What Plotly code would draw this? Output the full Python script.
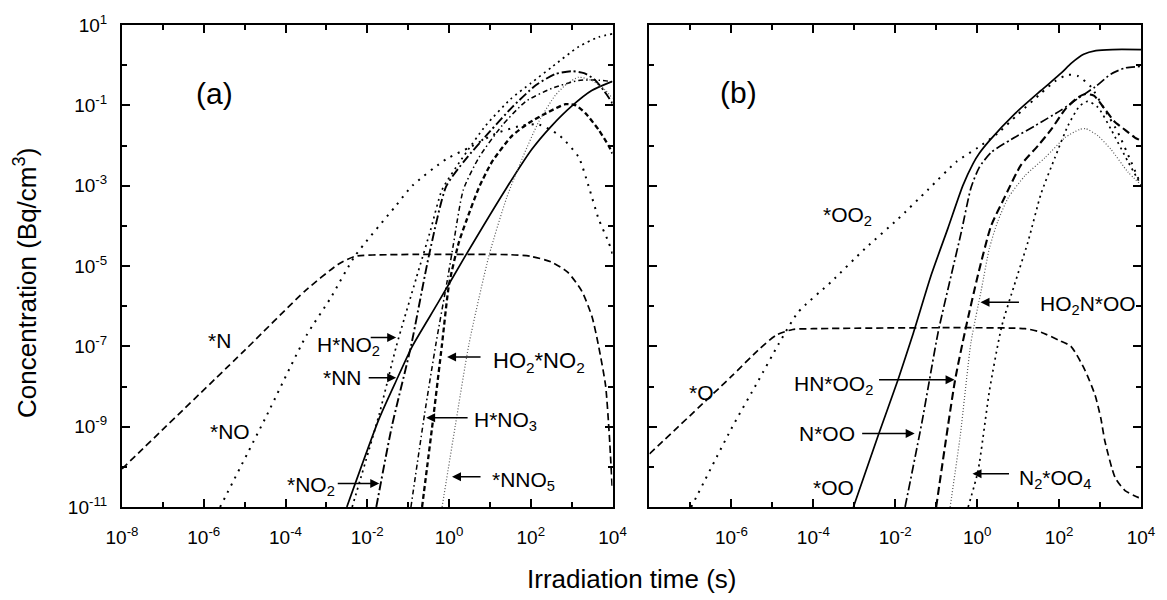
import plotly.graph_objects as go

FONT = "Liberation Sans, Arial, Helvetica, sans-serif"

# ---------------- Panel (a) data: time (s), concentration (Bq/cm3) ----------------
t_N = [1e-8, 1e-5, 3.16e-4, 2.0e-3, 5.01e-3, 3.16e-2, 31.6, 100, 316, 794, 1780, 3160, 4570, 6760, 8320, 9770]
c_N = [8.91e-11, 7.94e-8, 2.51e-6, 1.12e-5, 1.74e-5, 1.91e-5, 1.91e-5, 1.74e-5, 1.26e-5, 7.08e-6, 2.34e-6,
       5.37e-7, 1.0e-7, 1.05e-8, 6.31e-10, 3.16e-11]

t_NO = [2.51e-6, 3.16e-5, 3.16e-4, 1.26e-3, 5.01e-3, 5.01e-2, 0.126, 0.851, 3.16, 14.1, 63.1, 158, 501, 1480,
        2570, 4570, 7940, 10000]
c_NO = [1e-11, 1.58e-9, 1.78e-7, 1.58e-6, 1.78e-5, 3.16e-4, 1e-3, 4.57e-3, 8.91e-3, 2.0e-2, 3.16e-2, 3.31e-2,
        1.78e-2, 5.13e-3, 1e-3, 1.48e-4, 3.98e-5, 2.0e-5]

t_HNO2 = [4.27e-3, 1.95e-2, 5.13e-2, 0.158, 0.355, 0.676, 2.0, 7.94, 31.6, 100, 324, 1480, 4570, 10000]
c_HNO2 = [1e-11, 2.0e-9, 1e-7, 5.01e-6, 7.94e-5, 7.94e-4, 4.47e-3, 3.16e-2, 0.141, 0.355, 0.891, 2.88, 5.01, 6.03]

t_NN = [3.16e-3, 1.95e-2, 5.13e-2, 0.126, 0.513, 2.57, 25.7, 105, 324, 1000, 3090, 9550]
c_NN = [1e-11, 1.58e-9, 1.41e-8, 1e-7, 1.12e-6, 1.86e-5, 8.91e-4, 7.94e-3, 3.09e-2, 9.55e-2, 0.234, 0.389]

t_NO2 = [1.66e-2, 3.98e-2, 0.117, 0.324, 0.851, 2.51, 10, 34.7, 132, 398, 1000, 2000, 3550, 6310, 10000]
c_NO2 = [1e-11, 1e-9, 1e-7, 1.86e-5, 9.55e-4, 4.47e-3, 2.24e-2, 8.91e-2, 0.316, 0.603, 0.708, 0.631, 0.447,
         0.224, 0.112]

t_HO2NO2 = [0.219, 0.398, 0.676, 1.0, 1.74, 2.75, 5.37, 11.2, 34.7, 89.1, 234, 708, 1260, 2190, 4570, 7940, 10000]
c_HO2NO2 = [1e-11, 1.26e-9, 1.17e-7, 3.47e-6, 3.89e-5, 1.48e-4, 8.91e-4, 3.89e-3, 1.74e-2, 3.63e-2, 6.31e-2,
            0.107, 0.1, 6.31e-2, 2.45e-2, 1e-2, 6.31e-3]

t_HNO3 = [0.117, 0.251, 0.479, 0.891, 1.26, 2.24, 5.37, 20.0, 75.9, 324, 1480, 3980, 10000]
c_HNO3 = [1e-11, 2.0e-9, 1.17e-7, 3.98e-6, 3.16e-5, 7.94e-4, 5.01e-3, 3.16e-2, 0.126, 0.263, 0.417, 0.427, 0.389]

t_NNO5 = [0.676, 1.41, 3.09, 9.55, 25.7, 63.1, 158, 398, 794, 1480, 3090, 6310, 10000]
c_NNO5 = [1e-11, 1e-9, 1.17e-7, 1.86e-5, 5.01e-4, 5.01e-3, 3.98e-2, 0.178, 0.355, 0.501, 0.417, 0.251, 0.148]

# ---------------- Panel (b) data ----------------
t_O = [1e-8, 1e-6, 5.01e-6, 1.26e-5, 3.16e-5, 1e-4, 14.8, 36.3, 100, 195, 427, 759, 1050, 1320, 2340, 4070,
       8510, 10000]
c_O = [2.09e-10, 1.78e-8, 8.91e-8, 1.91e-7, 2.63e-7, 2.75e-7, 2.75e-7, 2.24e-7, 1.41e-7, 1e-7, 2.57e-8, 6.03e-9,
       1.58e-9, 4.27e-10, 5.37e-11, 2.57e-11, 1.74e-11, 1.66e-11]

t_OO2 = [1.05e-7, 1e-6, 4.57e-6, 1.41e-5, 4.27e-5, 2.75e-4, 1.86e-3, 1.17e-2, 6.31e-2, 0.316, 1.05, 3.16, 10,
         36.3, 79.4, 158, 288, 603, 1320, 2750, 5750, 10000]
c_OO2 = [1e-11, 8.91e-10, 1.41e-8, 1.12e-7, 7.08e-7, 4.07e-6, 2.75e-5, 1.48e-4, 7.94e-4, 3.98e-3, 8.91e-3, 2.0e-2,
         6.03e-2, 0.2, 0.398, 0.575, 0.537, 0.288, 7.59e-2, 2.09e-2, 3.89e-3, 1.05e-3]

t_OO = [9.55e-4, 3.89e-3, 1.17e-2, 2.75e-2, 7.59e-2, 0.195, 0.447, 0.794, 1.12, 2.0, 8.51, 36.3, 112, 200, 398,
        794, 2000, 10000]
c_OO = [1e-11, 6.31e-10, 1.48e-8, 2.09e-7, 6.03e-6, 8.91e-5, 1e-3, 3.55e-3, 6.31e-3, 1.32e-2, 6.31e-2, 0.234,
        0.631, 1.12, 1.86, 2.29, 2.45, 2.45]

t_NOO = [1.74e-2, 4.47e-2, 0.112, 0.234, 0.407, 0.708, 1.12, 2.19, 6.76, 25.7, 112, 288, 759, 1860, 4070, 10000]
c_NOO = [1e-11, 1.26e-9, 2.29e-7, 6.03e-6, 6.76e-5, 8.91e-4, 2.82e-3, 6.76e-3, 1.41e-2, 3.09e-2, 7.59e-2, 0.148,
         0.288, 0.603, 0.851, 0.933]

t_HNOO2 = [0.1, 0.288, 0.513, 1.05, 2.19, 4.79, 11.7, 30.9, 63.1, 141, 288, 447, 708, 1320, 2240, 4070, 7080, 10000]
c_HNOO2 = [1e-11, 1.41e-8, 2.51e-7, 6.03e-6, 1e-4, 5.37e-4, 3.24e-3, 1e-2, 2.45e-2, 7.94e-2, 0.158, 0.191, 0.174,
           7.94e-2, 3.98e-2, 2.45e-2, 1.58e-2, 1.32e-2]

t_HO2NOO = [0.219, 0.389, 0.708, 1.26, 2.0, 3.16, 5.75, 14.8, 45.7, 141, 316, 447, 891, 1860, 4790, 10000]
c_HO2NOO = [1e-11, 6.31e-10, 1.26e-7, 2.51e-6, 2.82e-5, 1.26e-4, 5.01e-4, 1.78e-3, 5.01e-3, 1.58e-2, 2.51e-2,
            2.63e-2, 1.74e-2, 7.94e-3, 2.19e-3, 1.05e-3]

t_N2OO4 = [0.603, 1.05, 2.0, 3.98, 7.94, 17.4, 36.3, 79.4, 166, 316, 501, 891, 1860, 4790, 10000]
c_N2OO4 = [1e-11, 7.94e-11, 7.94e-9, 3.16e-7, 3.16e-6, 3.98e-5, 6.31e-4, 5.01e-3, 3.16e-2, 9.55e-2, 0.126,
           8.91e-2, 2.51e-2, 3.98e-3, 1.05e-3]

# ---------------- ticks ----------------
x_major = [1e-8, 1e-6, 1e-4, 1e-2, 1e0, 1e2, 1e4]
x_major_text = ["10<sup>-8</sup>", "10<sup>-6</sup>", "10<sup>-4</sup>", "10<sup>-2</sup>",
                "10<sup>0</sup>", "10<sup>2</sup>", "10<sup>4</sup>"]
x_minor = [1e-7, 1e-5, 1e-3, 1e-1, 1e1, 1e3]
y_major = [1e1, 1e-1, 1e-3, 1e-5, 1e-7, 1e-9, 1e-11]
y_major_text = ["10<sup>1</sup>", "10<sup>-1</sup>", "10<sup>-3</sup>", "10<sup>-5</sup>",
                "10<sup>-7</sup>", "10<sup>-9</sup>", "10<sup>-11</sup>"]
y_minor = [1e0, 1e-2, 1e-4, 1e-6, 1e-8, 1e-10]

fig = go.Figure()


def add(x, y, xa, ya, dash, width, color="black"):
    fig.add_trace(go.Scatter(
        x=x, y=y, xaxis=xa, yaxis=ya, mode="lines",
        line=dict(color=color, width=width, dash=dash, shape="spline", smoothing=0.6),
        showlegend=False, hoverinfo="skip"))


# panel (a)
add(t_N, c_N, "x", "y", "7px,4px", 1.7)
add(t_NO, c_NO, "x", "y", "2px,6px", 2)
add(t_HNO2, c_HNO2, "x", "y", "2px,4px", 1.7)
add(t_NN, c_NN, "x", "y", "solid", 1.7)
add(t_NO2, c_NO2, "x", "y", "9px,3px,2px,3px", 1.9)
add(t_HO2NO2, c_HO2NO2, "x", "y", "5px,3px", 2.3)
add(t_HNO3, c_HNO3, "x", "y", "5px,3px,1.5px,3px", 1.5)
add(t_NNO5, c_NNO5, "x", "y", "1px,2px", 1.2, "#555555")
# panel (b)
add(t_O, c_O, "x2", "y2", "7px,4px", 1.7)
add(t_OO2, c_OO2, "x2", "y2", "2px,6px", 2)
add(t_OO, c_OO, "x2", "y2", "solid", 1.7)
add(t_NOO, c_NOO, "x2", "y2", "9px,3px,2px,3px", 1.7)
add(t_HNOO2, c_HNOO2, "x2", "y2", "8px,4px", 2.1)
add(t_HO2NOO, c_HO2NOO, "x2", "y2", "1px,2px", 1.2, "#555555")
add(t_N2OO4, c_N2OO4, "x2", "y2", "2px,4px", 1.7)

W, H = 1167, 600
ML, MR, MT, MB = 122, 23, 15, 93
PW, PH = W - ML - MR, H - MT - MB

tickfont = dict(family=FONT, size=19, color="black")
minor_x = dict(tickmode="array", tickvals=x_minor, ticks="inside", ticklen=5, tickwidth=1.5,
               tickcolor="black", showgrid=False)
minor_y = dict(tickmode="array", tickvals=y_minor, ticks="inside", ticklen=5, tickwidth=1.5,
               tickcolor="black", showgrid=False)
common = dict(type="log", showline=True, linecolor="black", linewidth=2, mirror="ticks",
              ticks="inside", ticklen=8, tickwidth=1.5, tickcolor="black", showgrid=False,
              zeroline=False, tickmode="array", tickfont=tickfont)

fig.update_layout(
    width=W, height=H, paper_bgcolor="white", plot_bgcolor="white",
    margin=dict(l=ML, r=MR, t=MT, b=MB), showlegend=False,
    xaxis=dict(common, domain=[0, (614 - ML) / PW], range=[-8, 4], anchor="y",
               tickvals=x_major, ticktext=x_major_text, minor=minor_x, ticklabelstandoff=12),
    yaxis=dict(common, domain=[0, 1], range=[-11, 1], anchor="x",
               tickvals=y_major, ticktext=y_major_text, minor=minor_y, ticklabelstandoff=9),
    xaxis2=dict(common, domain=[(651 - ML) / PW, 1], range=[-8, 4], anchor="y2",
                tickvals=x_major[1:], ticktext=x_major_text[1:], minor=minor_x, ticklabelstandoff=12),
    yaxis2=dict(common, domain=[0, 1], range=[-11, 1], anchor="x2",
                tickvals=y_major, ticktext=y_major_text, minor=minor_y, showticklabels=False),
)


def px(x):
    return (x - ML) / PW


def py(y):
    return (H - MB - y) / PH


annotations = []


def text(s, x, y, size=21, angle=0):
    annotations.append(dict(text=s, x=px(x), y=py(y), xref="paper", yref="paper", showarrow=False,
                            xanchor="center", yanchor="middle", textangle=angle,
                            font=dict(family=FONT, size=size, color="black")))


def arrow(x_tip, y_tip, dx):
    annotations.append(dict(text="", x=px(x_tip), y=py(y_tip), xref="paper", yref="paper",
                            showarrow=True, ax=dx, ay=0, arrowhead=2, arrowsize=1.2,
                            arrowwidth=1.5, arrowcolor="black", standoff=0, startstandoff=0))


# panel (a) labels
text("(a)", 215, 85, 30)
text("*N", 220, 337)
text("*NO", 230, 430)
text("H*NO<sub>2</sub>", 349, 343)
arrow(397, 334, -27)
text("*NN", 343, 375)
arrow(397, 375, -29)
text("*NO<sub>2</sub>", 312, 486)
arrow(380, 483, -43)
text("HO<sub>2</sub>*NO<sub>2</sub>", 540, 359, 22)
arrow(448, 354, 35)
text("H*NO<sub>3</sub>", 507, 419)
arrow(427, 416, 43)
text("*NNO<sub>5</sub>", 525, 480)
arrow(453, 476, 30)

# panel (b) labels
text("(b)", 740, 84, 30)
text("*OO<sub>2</sub>", 850, 210)
text("*O", 703, 390)
text("HO<sub>2</sub>N*OO", 1091, 301)
arrow(983, 298, 40)
text("HN*OO<sub>2</sub>", 836, 382)
arrow(957, 377, -77)
text("N*OO", 829, 432)
arrow(917, 432, -54)
text("*OO", 836, 487)
text("N<sub>2</sub>*OO<sub>4</sub>", 1058, 478)
arrow(975, 473, 38)

# axis titles
text("Concentration (Bq/cm<sup>3</sup>)", 25, 278, 26, -90)
text("Irradiation time (s)", 634, 581, 26)

fig.update_layout(annotations=annotations)
fig.write_html("out.html", config={"displayModeBar": False},
               post_script="document.body.style.margin='0px';document.body.style.overflow='hidden';")
